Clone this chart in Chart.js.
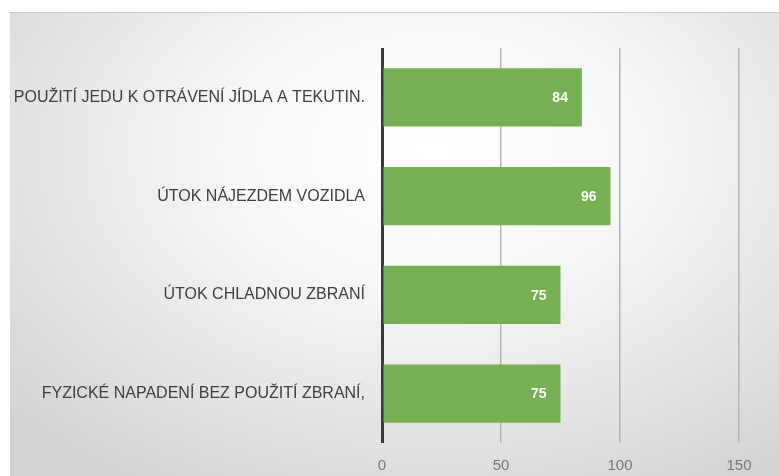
<!DOCTYPE html>
<html>
<head>
<meta charset="utf-8">
<script src="https://cdn.jsdelivr.net/npm/chart.js@4"></script>
<style>
  html, body { margin: 0; padding: 0; background: #fff; }
  #box {
    position: absolute; left: 10px; top: 12px; width: 769px; height: 464px;
    background: radial-gradient(ellipse 75% 85% at 55% 30%, #ffffff 0%, #f7f7f7 35%, #e4e4e4 70%, #d2d2d2 100%);
    border-top: 1px solid #c8c8c8;
    box-sizing: border-box;
  }
  #chart1 { display: block; }
</style>
</head>
<body>
<div id="box"><canvas id="chart1" width="769" height="463"></canvas></div>
<script>
var categories = [
    'POUŽITÍ JEDU K OTRÁVENÍ JÍDLA A TEKUTIN.',
    'ÚTOK NÁJEZDEM VOZIDLA',
    'ÚTOK CHLADNOU ZBRANÍ',
    'FYZICKÉ NAPADENÍ BEZ POUŽITÍ ZBRANÍ,'
];
var values = [84, 96, 75, 75];
var xTicks = [0, 50, 100, 150];

// white numbers inside the bar ends
var barLabels = {
    id: 'barLabels',
    afterDatasetsDraw: function(chart) {
        var ctx = chart.ctx;
        var meta = chart.getDatasetMeta(0);
        ctx.save();
        ctx.fillStyle = '#ffffff';
        ctx.font = 'bold 14px "Liberation Sans", Arial, sans-serif';
        ctx.textAlign = 'right';
        ctx.textBaseline = 'middle';
        meta.data.forEach(function(bar, i) {
            ctx.fillText(values[i], bar.x - 14, bar.y + 1);
        });
        ctx.restore();
    }
};

window.onload = function() {
    var ctx1 = document.getElementById('chart1').getContext('2d');
    var chart1 = new Chart(ctx1, {
        type: 'bar',
        data: {
            labels: categories,
            datasets: [{
                data: values,
                backgroundColor: '#75b152',
                barPercentage: 0.59,
                categoryPercentage: 1.0
            }]
        },
        options: {
            indexAxis: 'y',
            responsive: false,
            animation: false,
            layout: { padding: { top: 35, right: 40, left: 0, bottom: 0 } },
            plugins: {
                legend: { display: false },
                title: { display: false },
                tooltip: { enabled: false }
            },
            scales: {
                x: {
                    min: 0,
                    max: 150,
                    afterBuildTicks: function(scale) {
                        scale.ticks = xTicks.map(function(v) { return { value: v }; });
                    },
                    afterFit: function(scale) { scale.height = 33; },
                    border: { display: false },
                    grid: {
                        drawTicks: false,
                        color: function(c) { return c.tick && c.tick.value === 0 ? '#3a3a3a' : '#b4b4b4'; },
                        lineWidth: function(c) { return c.tick && c.tick.value === 0 ? 3 : 1.5; }
                    },
                    ticks: {
                        padding: 14,
                        color: '#777777',
                        font: { family: '"Liberation Sans", Arial, sans-serif', size: 15 }
                    }
                },
                y: {
                    afterFit: function(scale) { scale.width = 372; },
                    border: { display: false },
                    grid: { display: false },
                    ticks: {
                        padding: 9,
                        color: '#404040',
                        font: { family: '"Liberation Sans", Arial, sans-serif', size: 16 }
                    }
                }
            }
        },
        plugins: [barLabels]
    });
};
</script>
</body>
</html>
